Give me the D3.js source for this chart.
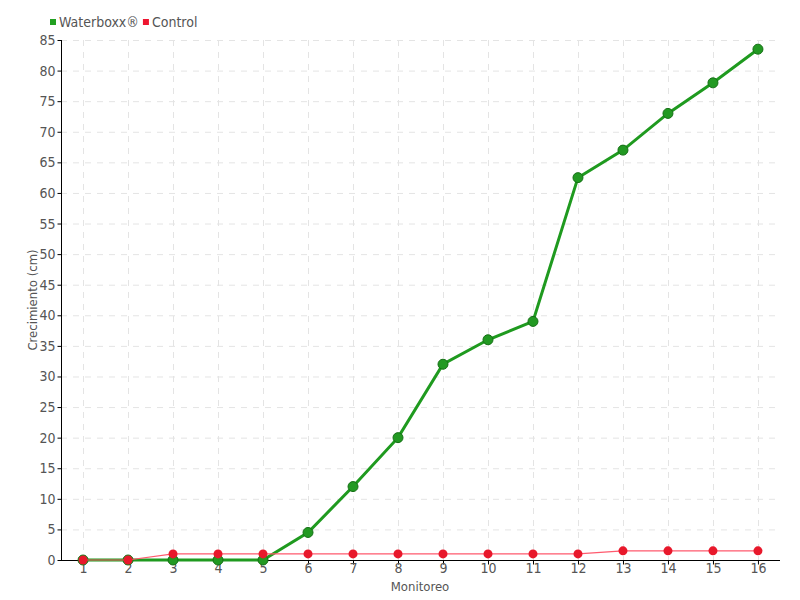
<!DOCTYPE html>
<html><head><meta charset="utf-8">
<script src="https://cdn.jsdelivr.net/npm/d3@7"></script>
<style>
body{margin:0;background:#fff;}
text{font-family:"DejaVu Sans Condensed","DejaVu Sans",sans-serif;font-stretch:condensed;fill:#555;}
</style></head><body>
<svg id="c" width="800" height="600"></svg>
<script>
const categories = ["1","2","3","4","5","6","7","8","9","10","11","12","13","14","15","16"];
const waterboxx = [0,0,0,0,0,4.5,12,20,32,36,39,62.5,67,73,78,83.5];
const control = [0,0,1,1,1,1,1,1,1,1,1,1,1.5,1.5,1.5,1.5];
const yTicks = d3.range(0,90,5);
const seriesNames = ["Waterboxx®","Control"];

const svg = d3.select("#c");
const L=61, R=780, T=40, B=560;
const x = d3.scalePoint().domain(categories).range([L,R]).padding(0.49);
const y = d3.scaleLinear().domain([0,85]).range([B,T]);
const FS = 13;

// grid
const g = svg.append("g");
g.selectAll(".hg").data(yTicks.slice(1)).join("line")
 .attr("x1",L).attr("x2",R).attr("y1",d=>y(d)+0.5).attr("y2",d=>y(d)+0.5)
 .attr("stroke","#e4e4e4").attr("stroke-dasharray","6,6");
g.selectAll(".vg").data(categories).join("line")
 .attr("x1",d=>Math.round(x(d))+0.5).attr("x2",d=>Math.round(x(d))+0.5).attr("y1",T).attr("y2",B)
 .attr("stroke","#e4e4e4").attr("stroke-dasharray","6,6");

// axes
const yAxis = svg.append("g").attr("transform",`translate(${L+0.5},0)`)
 .call(d3.axisLeft(y).tickValues(yTicks).tickSize(4).tickPadding(2));
yAxis.select(".domain").attr("d",`M0,${T}V${B+0.5}`).attr("stroke","#000");
yAxis.selectAll("text").attr("font-size",FS+1).style("fill","#555");
const xAxis = svg.append("g").attr("transform",`translate(0,${B+0.5})`)
 .call(d3.axisBottom(x).tickSize(4).tickPadding(-1));
xAxis.select(".domain").attr("d",`M${L},0H${R}`).attr("stroke","#000");
xAxis.selectAll("text").attr("font-size",FS+1).style("fill","#555");

svg.append("text").attr("x",420).attr("y",591).attr("text-anchor","middle").attr("font-size",FS).text("Monitoreo");
svg.append("text").attr("transform","translate(37,300) rotate(-90)").attr("text-anchor","middle").attr("font-size",FS).text("Crecimiento (cm)");

const line = d3.line().x((d,i)=>x(categories[i])).y(d=>y(d));
// green
svg.append("path").datum(waterboxx).attr("d",line).attr("fill","none").attr("stroke","#1f9a1f").attr("stroke-width",3);
svg.selectAll(".gp").data(waterboxx).join("circle")
 .attr("cx",(d,i)=>x(categories[i])).attr("cy",d=>y(d)).attr("r",5)
 .attr("fill","#229922").attr("stroke","#167016").attr("stroke-width",1);
// red
svg.append("path").datum(control).attr("d",line).attr("fill","none").attr("stroke","#ff5a6e").attr("stroke-width",1.2);
svg.selectAll(".rp").data(control).join("circle")
 .attr("cx",(d,i)=>x(categories[i])).attr("cy",d=>y(d)).attr("r",4.5)
 .attr("fill","#e8182b");

// legend
const colors = ["#22a022","#ee1530"];
const lg = svg.append("g");
let lx = 50;
seriesNames.forEach((n,i)=>{
  lg.append("rect").attr("x",lx).attr("y",19).attr("width",6).attr("height",6).attr("fill",colors[i]);
  const t = lg.append("text").attr("x",lx+9).attr("y",27).attr("font-size",FS+1).text(n);
  lx += 9 + t.node().getComputedTextLength() + 4;
});
</script></body></html>
